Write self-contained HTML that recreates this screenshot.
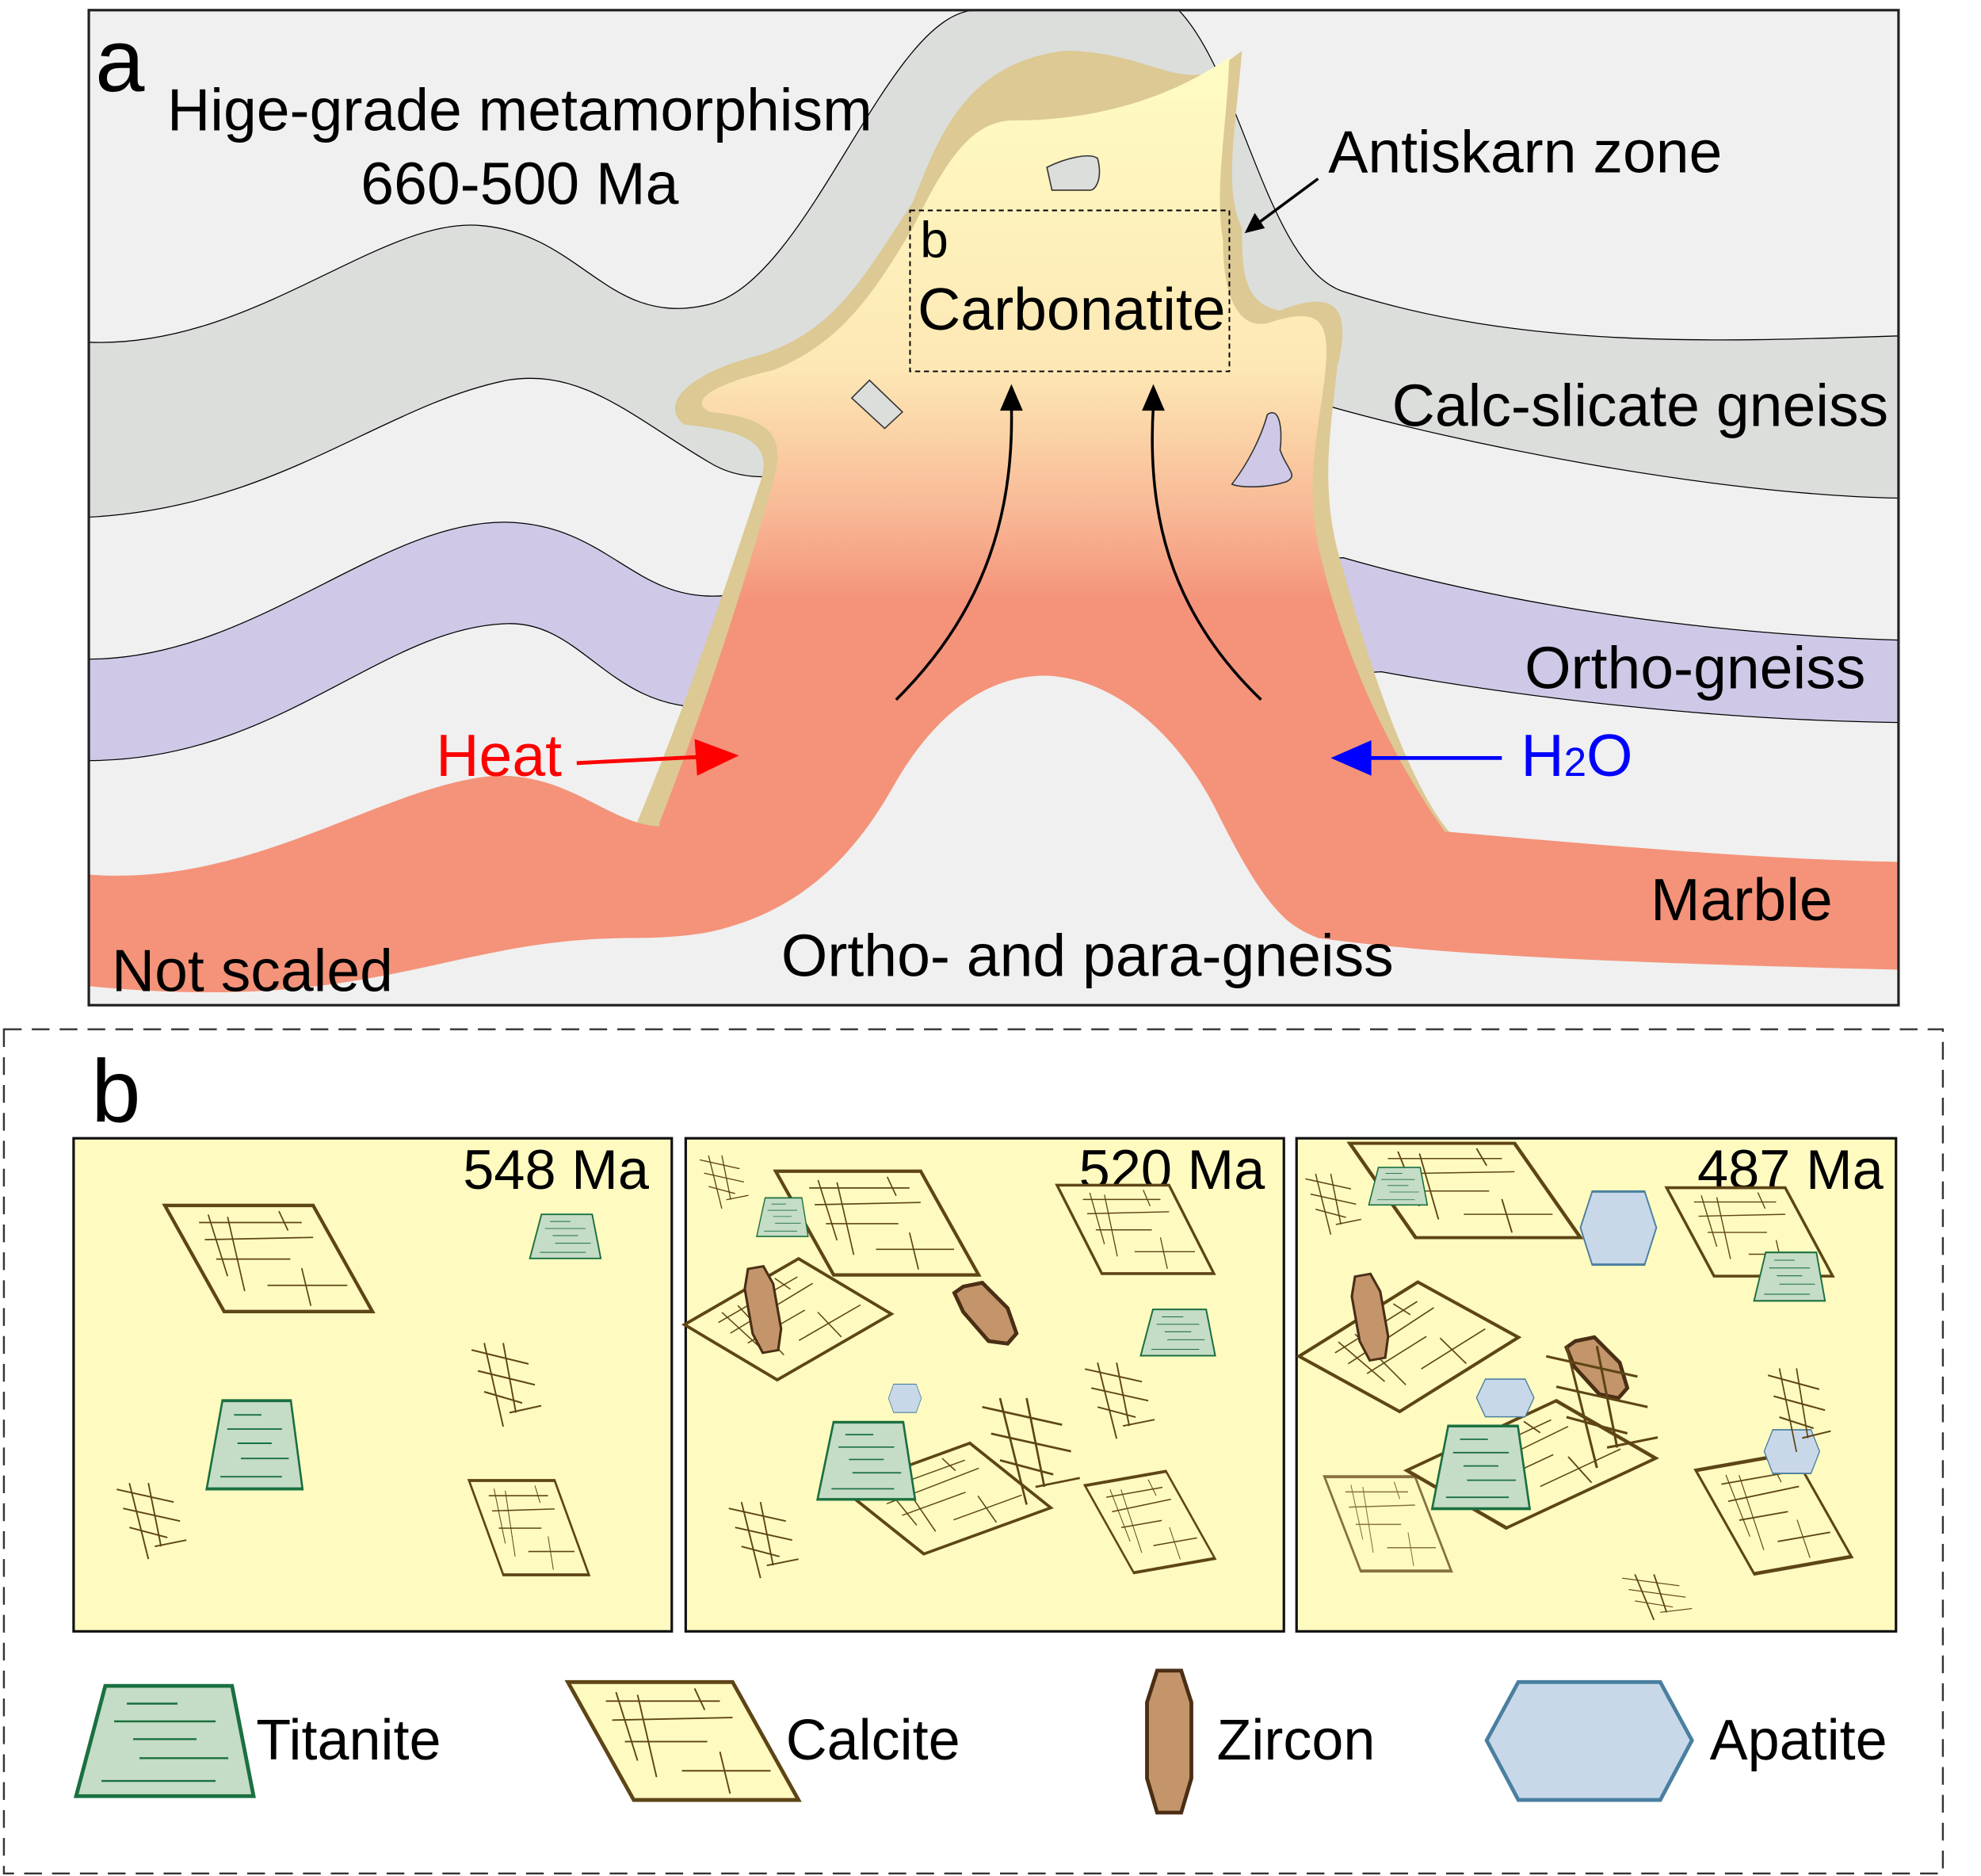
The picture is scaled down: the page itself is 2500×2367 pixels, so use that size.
<!DOCTYPE html>
<html><head><meta charset="utf-8"><style>
html,body{margin:0;padding:0;background:#fff}
svg{display:block}
text{font-family:"Liberation Sans",Arial,sans-serif}
</style></head><body>
<svg width="2500" height="2367" viewBox="0 0 1563 1480" xmlns="http://www.w3.org/2000/svg">
<defs>
<linearGradient id="cg" gradientUnits="userSpaceOnUse" x1="0" y1="60" x2="0" y2="520">
<stop offset="0" stop-color="#fefbc2"/><stop offset="0.5" stop-color="#fde8b5"/><stop offset="0.75" stop-color="#f8b895"/><stop offset="0.9" stop-color="#f4937a"/><stop offset="1" stop-color="#f4937a"/>
</linearGradient>
<g id="cal">
<polygon points="0,0 130,0 182,93 52,93" fill="#fffbc0" stroke="#5e4516" stroke-width="3"/>
<g stroke="#5e4516" stroke-width="1.2" fill="none">
<line x1="30" y1="15" x2="120" y2="15"/><line x1="35" y1="30" x2="130" y2="28"/><line x1="45" y1="47" x2="110" y2="47"/><line x1="90" y1="70" x2="160" y2="70"/>
<line x1="38" y1="8" x2="55" y2="62"/><line x1="55" y1="10" x2="70" y2="75"/><line x1="100" y1="5" x2="108" y2="22"/><line x1="120" y1="55" x2="128" y2="88"/>
</g></g>
<g id="tit">
<polygon points="23,0 123,0 140,87 0,87" fill="#c5dcc6" stroke="#1a7040" stroke-width="3"/>
<g stroke="#1a7040" stroke-width="1.5"><line x1="40" y1="14" x2="80" y2="14"/><line x1="30" y1="28" x2="110" y2="28"/><line x1="45" y1="42" x2="95" y2="42"/><line x1="50" y1="57" x2="120" y2="57"/><line x1="20" y1="75" x2="110" y2="75"/></g>
</g>
<polygon id="zir" points="8,0 27,0 35,25 35,85 27,112 8,112 0,85 0,25" fill="#c4956a" stroke="#4a2e15" stroke-width="3"/>
<polygon id="apa" points="0,46 25,0 137,0 162,46 137,93 25,93" fill="#c8d8e8" stroke="#4a7fa0" stroke-width="3"/>
<g id="sm" stroke="#5e4516" stroke-width="1.2" fill="none">
<line x1="0" y1="0" x2="45" y2="10"/><line x1="5" y1="15" x2="50" y2="25"/><line x1="10" y1="30" x2="40" y2="38"/><line x1="10" y1="-5" x2="25" y2="55"/><line x1="25" y1="-5" x2="35" y2="45"/><line x1="30" y1="45" x2="55" y2="40"/>
</g>
</defs>

<rect x="70" y="8" width="1428" height="785" fill="#f0f0f0"/>
<path d="M70,270 C200,275 300,170 380,178 C460,185 480,260 560,240 C640,220 700,10 770,8 L930,8 C980,60 1000,210 1060,230 C1200,275 1350,270 1498,265 L1498,393 C1350,390 1150,350 1040,318 L1000,300 C800,250 650,420 560,365 C500,330 460,290 400,300 C300,320 220,400 70,408 Z" fill="#dcdedc" stroke="#000" stroke-width="0.8"/>
<path d="M70,520 C200,520 300,410 400,412 C480,414 500,475 570,470 L1060,440 C1200,480 1350,500 1498,505 L1498,570 C1350,568 1200,550 1090,530 L560,558 C480,560 460,490 400,492 C300,495 220,600 70,600 Z" fill="#cfc9e7" stroke="#000" stroke-width="0.8"/>
<path d="M500,655 C540,560 570,470 600,380 C610,350 590,340 540,335 C520,320 540,295 600,280 C660,260 680,220 720,160 C740,110 760,50 840,40 C900,40 930,70 960,55 L980,40 C975,100 965,150 980,180 C980,210 980,240 1010,245 C1060,225 1065,250 1055,290 C1050,340 1040,390 1060,450 C1090,560 1120,630 1145,658 Z" fill="#dcc993"/>
<path d="M520,650 C555,560 585,470 610,380 C620,345 610,330 560,325 C545,318 555,305 610,292 C665,270 690,230 720,180 C745,130 765,95 800,95 C860,95 920,80 970,45 C968,100 958,150 965,190 C965,230 975,260 1000,255 C1045,240 1050,255 1045,300 C1040,340 1030,380 1040,430 C1060,520 1100,600 1140,656 Z" fill="url(#cg)"/>
<path d="M70,690 C200,700 300,620 390,612 C450,610 480,650 520,652 C540,600 560,550 590,500 L1055,500 C1085,570 1105,640 1140,656 C1300,670 1400,678 1498,680 L1498,765 C1300,760 1150,755 1040,740 C960,710 960,580 880,545 C800,510 740,560 700,630 C650,710 600,740 500,740 C350,740 300,800 70,778 Z" fill="#f4937a"/>
<path d="M500,793 L500,742 C600,740 660,700 705,620 C745,550 790,533 825,533 C880,535 930,580 960,640 C990,700 1010,730 1040,741 L1060,793 Z" fill="#f0f0f0"/>
<rect x="70" y="8" width="1428" height="785" fill="none" stroke="#222" stroke-width="2"/>
<path d="M826,132 C840,125 860,120 866,125 C870,140 865,150 860,150 L830,150 Z" fill="#dcdedc" stroke="#333" stroke-width="1"/>
<path d="M672,314 L686,300 L712,325 L698,338 Z" fill="#dcdedc" stroke="#333" stroke-width="1"/>
<path d="M1000,327 C1010,320 1012,340 1010,355 C1015,370 1025,375 1015,380 C1000,385 980,385 972,382 C985,365 995,345 1000,327 Z" fill="#cfc9e7" stroke="#333" stroke-width="1"/>
<rect x="718" y="166" width="252" height="127" fill="none" stroke="#000" stroke-width="1.2" stroke-dasharray="4,3"/>
<g stroke="#000" stroke-width="2.2" fill="none">
<path d="M707,552 C780,480 800,400 798,320"/><path d="M995,552 C920,480 905,400 910,320"/>
<line x1="1040" y1="141" x2="990" y2="178"/>
</g>
<polygon points="798,303 789,324 807,324" fill="#000"/>
<polygon points="910,303 901,324 919,324" fill="#000"/>
<polygon points="982,184 990,168 998,180" fill="#000"/>
<line x1="455" y1="602" x2="555" y2="597" stroke="#f00" stroke-width="3"/>
<polygon points="583,596 548,583 550,612" fill="#f00"/>
<line x1="1185" y1="598" x2="1075" y2="598" stroke="#00f" stroke-width="3"/>
<polygon points="1050,598 1082,584 1082,612" fill="#00f"/>
<g font-size="47" fill="#000">
<text x="75" y="72" font-size="70">a</text>
<text x="410" y="103" text-anchor="middle">Hige-grade metamorphism</text>
<text x="410" y="161" text-anchor="middle">660-500 Ma</text>
<text x="1048" y="136">Antiskarn zone</text>
<text x="726" y="203" font-size="40">b</text>
<text x="724" y="260">Carbonatite</text>
<text x="1490" y="336" text-anchor="end">Calc-slicate gneiss</text>
<text x="1472" y="543" text-anchor="end">Ortho-gneiss</text>
<text x="344" y="612" fill="#f00">Heat</text>
<text x="1200" y="612" fill="#00f">H<tspan font-size="32">2</tspan>O</text>
<text x="1446" y="726" text-anchor="end">Marble</text>
<text x="88" y="782">Not scaled</text>
<text x="858" y="770" text-anchor="middle">Ortho- and para-gneiss</text>
</g>

<rect x="3" y="812" width="1530" height="666" fill="none" stroke="#333" stroke-width="1.5" stroke-dasharray="14,8"/>
<text x="72" y="885" font-size="70">b</text>
<g fill="#fffbc0" stroke="#111" stroke-width="2">
<rect x="58" y="898" width="472" height="389"/><rect x="541" y="898" width="472" height="389"/><rect x="1023" y="898" width="473" height="389"/>
</g>
<g font-size="44"><text x="512" y="938" text-anchor="end">548 Ma</text><text x="998" y="938" text-anchor="end">520 Ma</text><text x="1486" y="938" text-anchor="end">487 Ma</text></g>

<use href="#cal" transform="translate(130,951) scale(0.9)"/>
<use href="#cal" transform="translate(370,1168) scale(0.52,0.8)"/>
<use href="#tit" transform="translate(418,958) scale(0.4,0.4)"/>
<use href="#tit" transform="translate(163,1105) scale(0.54,0.8)"/>
<use href="#sm" transform="translate(372,1065) scale(1,1.1)"/>
<use href="#sm" transform="translate(92,1175)"/>

<use href="#cal" transform="translate(612,924) scale(0.88,0.88)"/>
<use href="#cal" transform="translate(834,935) scale(0.68,0.75)"/>
<use href="#cal" transform="translate(540,1045) rotate(-30) scale(0.8,0.8)"/>
<use href="#cal" transform="translate(665,1175) rotate(-20) scale(0.82,0.75)"/>
<use href="#cal" transform="translate(856,1172) rotate(-10) scale(0.5,0.8)"/>
<use href="#tit" transform="translate(597,945) scale(0.29,0.35)"/>
<use href="#tit" transform="translate(900,1033) scale(0.42,0.42)"/>
<use href="#tit" transform="translate(645,1122) scale(0.55,0.7)"/>
<use href="#zir" transform="translate(585,1002) rotate(-10) scale(0.65,0.6)"/>
<polygon points="760,1015 775,1012 795,1032 802,1052 795,1060 780,1058 760,1035 753,1020" fill="#c4956a" stroke="#4a2e15" stroke-width="3"/>
<use href="#apa" transform="translate(701,1092) scale(0.16,0.24)"/>
<use href="#sm" transform="translate(552,915) scale(0.7)"/>
<use href="#sm" transform="translate(575,1190)"/>
<use href="#sm" transform="translate(856,1080)"/>
<use href="#sm" transform="translate(775,1110) scale(1.4)"/>

<use href="#cal" transform="translate(1065,902) scale(1.0,0.8)"/>
<use href="#cal" transform="translate(1315,937) scale(0.72,0.75)"/>
<use href="#cal" transform="translate(1025,1070) rotate(-32) scale(0.85,0.85)"/>
<use href="#cal" transform="translate(1110,1160) rotate(-25) scale(1.0,0.8)"/>
<use href="#cal" transform="translate(1338,1160) rotate(-10) scale(0.6,0.95)"/>
<g opacity="0.75"><use href="#cal" transform="translate(1045,1165) scale(0.55,0.8)"/></g>
<use href="#tit" transform="translate(1080,921) scale(0.33,0.34)"/>
<use href="#tit" transform="translate(1384,988) scale(0.4,0.44)"/>
<use href="#tit" transform="translate(1130,1125) scale(0.55,0.75)"/>
<use href="#zir" transform="translate(1064,1008) rotate(-10) scale(0.65,0.6)"/>
<polygon points="1243,1058 1258,1055 1278,1075 1284,1095 1277,1103 1262,1100 1242,1078 1236,1063" fill="#c4956a" stroke="#4a2e15" stroke-width="3"/>
<use href="#apa" transform="translate(1247,940) scale(0.37,0.62)"/>
<use href="#apa" transform="translate(1165,1088) scale(0.28,0.32)"/>
<use href="#apa" transform="translate(1392,1128) scale(0.27,0.37)"/>
<use href="#sm" transform="translate(1030,930) scale(0.8)"/>
<use href="#sm" transform="translate(1395,1085) scale(0.9,1.1)"/>
<use href="#sm" transform="translate(1280,1245) scale(1,0.6)"/>
<use href="#sm" transform="translate(1220,1070) scale(1.6)"/>

<use href="#tit" transform="translate(60,1330)"/>
<use href="#cal" transform="translate(448,1327)"/>
<use href="#zir" transform="translate(905,1318)"/>
<use href="#apa" transform="translate(1173,1327)"/>
<g font-size="45"><text x="202" y="1388">Titanite</text><text x="620" y="1388">Calcite</text><text x="960" y="1388">Zircon</text><text x="1349" y="1388">Apatite</text></g>
</svg>
</body></html>
